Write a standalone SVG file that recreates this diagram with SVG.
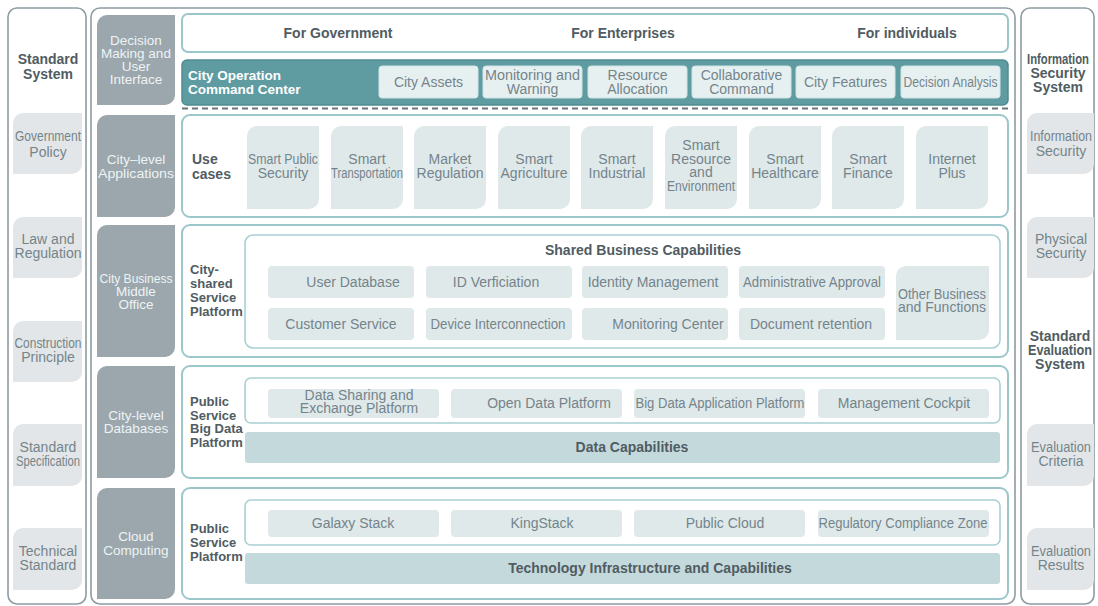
<svg xmlns="http://www.w3.org/2000/svg" width="1098" height="606" viewBox="0 0 1098 606">
<style>
text{font-family:"Liberation Sans",Arial,sans-serif;font-size:14px;fill:#74848a;text-anchor:middle}
.b{font-weight:bold;fill:#505c62}
.l{text-anchor:start}
.w{fill:#eef3f4;font-size:13.5px}
.wb{font-weight:bold;fill:#ffffff;text-anchor:start;font-size:13.5px}
.s13{font-size:13px}
.outer{fill:#ffffff;stroke:#8f9ca1;stroke-width:1.6}
.panel{fill:#ffffff;stroke:#9cc7ca;stroke-width:2}
.inner{fill:#ffffff;stroke:#a9d0d3;stroke-width:1.6}
.dark{fill:#9ba7ad}
.grey{fill:#e3e6e8}
.lb{fill:#dfe9ea}
.cc{fill:#e7f0f1;stroke:#cfe3e5;stroke-width:1}
.bar{fill:#c4d9dc}
</style>
<rect width="1098" height="606" fill="#ffffff"/>

<g id="left-column">
<rect class="outer" x="8" y="8" width="78" height="596" rx="9"/>
<text class="b" x="48" y="64">Standard</text>
<text class="b" x="48" y="79">System</text>
<path class="grey" d="M23 113 H82 V164 A10 10 0 0 1 72 174 H13 V123 A10 10 0 0 1 23 113 Z"/>
<text x="48" y="141" textLength="66" lengthAdjust="spacingAndGlyphs" font-size="13">Government</text>
<text x="48" y="157" font-size="13">Policy</text>
<path class="grey" d="M23 217 H82 V268 A10 10 0 0 1 72 278 H13 V227 A10 10 0 0 1 23 217 Z"/>
<text x="48" y="244">Law and</text>
<text x="48" y="258">Regulation</text>
<path class="grey" d="M23 321 H82 V372 A10 10 0 0 1 72 382 H13 V331 A10 10 0 0 1 23 321 Z"/>
<text x="48" y="348" textLength="67" lengthAdjust="spacingAndGlyphs">Construction</text>
<text x="48" y="362">Principle</text>
<path class="grey" d="M23 424 H82 V476 A10 10 0 0 1 72 486 H13 V434 A10 10 0 0 1 23 424 Z"/>
<text x="48" y="452">Standard</text>
<text x="48" y="466" textLength="64" lengthAdjust="spacingAndGlyphs">Specification</text>
<path class="grey" d="M23 528 H82 V580 A10 10 0 0 1 72 590 H13 V538 A10 10 0 0 1 23 528 Z"/>
<text x="48" y="556">Technical</text>
<text x="48" y="570">Standard</text>
</g>

<g id="right-column">
<rect class="outer" x="1021" y="8" width="73" height="596" rx="9"/>
<text class="b" x="1058" y="64" textLength="62" lengthAdjust="spacingAndGlyphs" font-size="12.5">Information</text>
<text class="b" x="1058" y="78" font-size="13">Security</text>
<text class="b" x="1058" y="92" font-size="13">System</text>
<path class="grey" d="M1037 113 H1094 V164 A10 10 0 0 1 1084 174 H1027 V123 A10 10 0 0 1 1037 113 Z"/>
<text x="1061" y="141" textLength="62" lengthAdjust="spacingAndGlyphs">Information</text>
<text x="1061" y="156">Security</text>
<path class="grey" d="M1037 217 H1094 V268 A10 10 0 0 1 1084 278 H1027 V227 A10 10 0 0 1 1037 217 Z"/>
<text x="1061" y="244">Physical</text>
<text x="1061" y="258">Security</text>
<text class="b" x="1060" y="341" font-size="13">Standard</text>
<text class="b" x="1060" y="355" font-size="13" textLength="64" lengthAdjust="spacingAndGlyphs">Evaluation</text>
<text class="b" x="1060" y="369" font-size="13">System</text>
<path class="grey" d="M1037 424 H1094 V476 A10 10 0 0 1 1084 486 H1027 V434 A10 10 0 0 1 1037 424 Z"/>
<text x="1061" y="452" textLength="60" lengthAdjust="spacingAndGlyphs">Evaluation</text>
<text x="1061" y="466">Criteria</text>
<path class="grey" d="M1037 528 H1094 V580 A10 10 0 0 1 1084 590 H1027 V538 A10 10 0 0 1 1037 528 Z"/>
<text x="1061" y="556" textLength="60" lengthAdjust="spacingAndGlyphs">Evaluation</text>
<text x="1061" y="570">Results</text>
</g>

<g id="main-frame">
<rect class="outer" x="91" y="8" width="924" height="596" rx="9"/>
</g>

<g id="layer-labels">
<path class="dark" d="M107 15 H175 V95 A10 10 0 0 1 165 105 H97 V25 A10 10 0 0 1 107 15 Z"/>
<text class="w" x="136" y="45">Decision</text>
<text class="w" x="136" y="58">Making and</text>
<text class="w" x="136" y="71">User</text>
<text class="w" x="136" y="84">Interface</text>
<path class="dark" d="M107 115 H175 V207 A10 10 0 0 1 165 217 H97 V125 A10 10 0 0 1 107 115 Z"/>
<text class="w" x="136" y="164">City–level</text>
<text class="w" x="136" y="178" textLength="76" lengthAdjust="spacingAndGlyphs">Applications</text>
<path class="dark" d="M107 225 H175 V347 A10 10 0 0 1 165 357 H97 V235 A10 10 0 0 1 107 225 Z"/>
<text class="w" x="136" y="283" textLength="73" lengthAdjust="spacingAndGlyphs">City Business</text>
<text class="w" x="136" y="296">Middle</text>
<text class="w" x="136" y="309">Office</text>
<path class="dark" d="M107 366 H175 V468 A10 10 0 0 1 165 478 H97 V376 A10 10 0 0 1 107 366 Z"/>
<text class="w" x="136" y="420">City-level</text>
<text class="w" x="136" y="433">Databases</text>
<path class="dark" d="M107 488 H175 V589 A10 10 0 0 1 165 599 H97 V498 A10 10 0 0 1 107 488 Z"/>
<text class="w" x="136" y="541">Cloud</text>
<text class="w" x="136" y="555">Computing</text>
</g>

<g id="decision-layer">
<rect class="panel" x="182" y="14" width="826" height="38" rx="6"/>
<text class="b" x="338" y="38">For Government</text>
<text class="b" x="623" y="38">For Enterprises</text>
<text class="b" x="907" y="38">For individuals</text>
<rect x="182" y="60" width="826" height="45" rx="5" fill="#5f9ca2" stroke="#4f8c92" stroke-width="1.5"/>
<text class="wb" x="188" y="80">City Operation</text>
<text class="wb" x="188" y="94">Command Center</text>
<rect class="cc" x="379" y="66" width="99" height="32" rx="3"/>
<text x="428.5" y="87">City Assets</text>
<rect class="cc" x="483" y="66" width="99" height="32" rx="3"/>
<text x="532.5" y="80" textLength="95" lengthAdjust="spacingAndGlyphs" font-size="13.5">Monitoring and</text>
<text x="532.5" y="94" font-size="13.5">Warning</text>
<rect class="cc" x="588" y="66" width="99" height="32" rx="3"/>
<text x="637.5" y="80" font-size="13.5">Resource</text>
<text x="637.5" y="94" font-size="13.5">Allocation</text>
<rect class="cc" x="692" y="66" width="99" height="32" rx="3"/>
<text x="741.5" y="80" font-size="13.5">Collaborative</text>
<text x="741.5" y="94" font-size="13.5">Command</text>
<rect class="cc" x="796" y="66" width="99" height="32" rx="3"/>
<text x="845.5" y="87">City Features</text>
<rect class="cc" x="901" y="66" width="99" height="32" rx="3"/>
<text x="950.5" y="87" textLength="94" lengthAdjust="spacingAndGlyphs">Decision Analysis</text>
</g>

<g id="connectors">
<line x1="182" y1="108.5" x2="1008" y2="108.5" stroke="#6c777b" stroke-width="2" stroke-dasharray="6 4"/>
</g>

<g id="applications-layer">
<rect class="panel" x="182" y="115" width="826" height="102" rx="8"/>
<text class="b l" x="192" y="164">Use</text>
<text class="b l" x="192" y="179">cases</text>
<path class="lb" d="M257 126 H319 V199 A10 10 0 0 1 309 209 H247 V136 A10 10 0 0 1 257 126 Z"/>
<text x="283" y="164" textLength="70" lengthAdjust="spacingAndGlyphs">Smart Public</text>
<text x="283" y="178">Security</text>
<path class="lb" d="M341 126 H403 V199 A10 10 0 0 1 393 209 H331 V136 A10 10 0 0 1 341 126 Z"/>
<text x="367" y="164">Smart</text>
<text x="367" y="178" textLength="72" lengthAdjust="spacingAndGlyphs">Transportation</text>
<path class="lb" d="M424 126 H486 V199 A10 10 0 0 1 476 209 H414 V136 A10 10 0 0 1 424 126 Z"/>
<text x="450" y="164">Market</text>
<text x="450" y="178">Regulation</text>
<path class="lb" d="M508 126 H570 V199 A10 10 0 0 1 560 209 H498 V136 A10 10 0 0 1 508 126 Z"/>
<text x="534" y="164">Smart</text>
<text x="534" y="178">Agriculture</text>
<path class="lb" d="M591 126 H653 V199 A10 10 0 0 1 643 209 H581 V136 A10 10 0 0 1 591 126 Z"/>
<text x="617" y="164">Smart</text>
<text x="617" y="178">Industrial</text>
<path class="lb" d="M675 126 H737 V199 A10 10 0 0 1 727 209 H665 V136 A10 10 0 0 1 675 126 Z"/>
<text x="701" y="150" font-size="13">Smart</text>
<text x="701" y="164" font-size="13">Resource</text>
<text x="701" y="177" font-size="13">and</text>
<text x="701" y="191" textLength="68" lengthAdjust="spacingAndGlyphs" font-size="13">Environment</text>
<path class="lb" d="M759 126 H821 V199 A10 10 0 0 1 811 209 H749 V136 A10 10 0 0 1 759 126 Z"/>
<text x="785" y="164">Smart</text>
<text x="785" y="178">Healthcare</text>
<path class="lb" d="M842 126 H904 V199 A10 10 0 0 1 894 209 H832 V136 A10 10 0 0 1 842 126 Z"/>
<text x="868" y="164">Smart</text>
<text x="868" y="178">Finance</text>
<path class="lb" d="M926 126 H988 V199 A10 10 0 0 1 978 209 H916 V136 A10 10 0 0 1 926 126 Z"/>
<text x="952" y="164">Internet</text>
<text x="952" y="178">Plus</text>
</g>

<g id="middle-office-layer">
<rect class="panel" x="182" y="225" width="826" height="132" rx="8"/>
<text class="b l s13" x="190" y="274">City-</text>
<text class="b l s13" x="190" y="288">shared</text>
<text class="b l s13" x="190" y="302">Service</text>
<text class="b l s13" x="190" y="316">Platform</text>
<rect class="inner" x="245" y="235" width="755" height="113" rx="8"/>
<text class="b" x="643" y="255" font-size="13.5">Shared Business Capabilities</text>
<rect class="lb" x="268" y="266" width="146" height="32" rx="4"/>
<text x="353" y="287">User Database</text>
<rect class="lb" x="426" y="266" width="146" height="32" rx="4"/>
<text x="496" y="287">ID Verficiation</text>
<rect class="lb" x="582" y="266" width="146" height="32" rx="4"/>
<text x="653" y="287">Identity Management</text>
<rect class="lb" x="739" y="266" width="146" height="32" rx="4"/>
<text x="812" y="287" textLength="138" lengthAdjust="spacingAndGlyphs">Administrative Approval</text>
<rect class="lb" x="268" y="308" width="146" height="32" rx="4"/>
<text x="341" y="329">Customer Service</text>
<rect class="lb" x="426" y="308" width="146" height="32" rx="4"/>
<text x="498" y="329" textLength="135" lengthAdjust="spacingAndGlyphs">Device Interconnection</text>
<rect class="lb" x="582" y="308" width="146" height="32" rx="4"/>
<text x="668" y="329">Monitoring Center</text>
<rect class="lb" x="739" y="308" width="146" height="32" rx="4"/>
<text x="811" y="329">Document retention</text>
<path class="lb" d="M906 266 H989 V330 A10 10 0 0 1 979 340 H896 V276 A10 10 0 0 1 906 266 Z"/>
<text x="942" y="299" textLength="88" lengthAdjust="spacingAndGlyphs" font-size="13">Other Business</text>
<text x="942" y="312" font-size="13">and Functions</text>
</g>

<g id="database-layer">
<rect class="panel" x="182" y="366" width="826" height="112" rx="8"/>
<text class="b l s13" x="190" y="406">Public</text>
<text class="b l s13" x="190" y="420">Service</text>
<text class="b l s13" x="190" y="433">Big Data</text>
<text class="b l s13" x="190" y="447">Platform</text>
<rect class="inner" x="245" y="378" width="755" height="45" rx="6"/>
<rect class="lb" x="268" y="389" width="171" height="29" rx="4"/>
<text x="359" y="400" font-size="13">Data Sharing and</text>
<text x="359" y="413" font-size="13">Exchange Platform</text>
<rect class="lb" x="451" y="389" width="171" height="29" rx="4"/>
<text x="549" y="408">Open Data Platform</text>
<rect class="lb" x="634" y="389" width="171" height="29" rx="4"/>
<text x="720" y="408" textLength="169" lengthAdjust="spacingAndGlyphs">Big Data Application Platform</text>
<rect class="lb" x="818" y="389" width="171" height="29" rx="4"/>
<text x="904" y="408">Management Cockpit</text>
<rect class="bar" x="245" y="432" width="755" height="31" rx="3"/>
<text class="b" x="632" y="452" font-size="13.5">Data Capabilities</text>
</g>

<g id="cloud-layer">
<rect class="panel" x="182" y="488" width="826" height="111" rx="8"/>
<text class="b l s13" x="190" y="533">Public</text>
<text class="b l s13" x="190" y="547">Service</text>
<text class="b l s13" x="190" y="561">Platform</text>
<rect class="inner" x="245" y="500" width="755" height="45" rx="6"/>
<rect class="lb" x="268" y="510" width="171" height="27" rx="4"/>
<text x="353" y="528">Galaxy Stack</text>
<rect class="lb" x="451" y="510" width="171" height="27" rx="4"/>
<text x="542" y="528">KingStack</text>
<rect class="lb" x="634" y="510" width="171" height="27" rx="4"/>
<text x="725" y="528">Public Cloud</text>
<rect class="lb" x="818" y="510" width="171" height="27" rx="4"/>
<text x="903" y="528" textLength="169" lengthAdjust="spacingAndGlyphs">Regulatory Compliance Zone</text>
<rect class="bar" x="245" y="553" width="755" height="31" rx="3"/>
<text class="b" x="650" y="573" font-size="13.5">Technology Infrastructure and Capabilities</text>
</g>
</svg>
